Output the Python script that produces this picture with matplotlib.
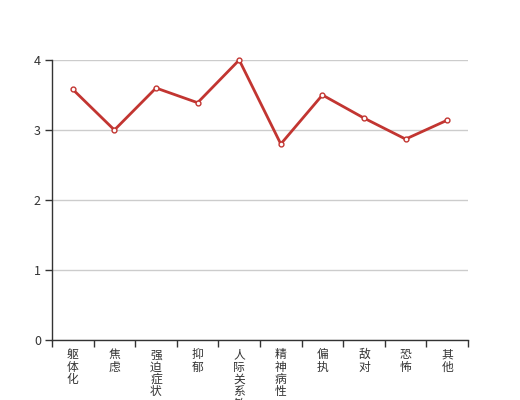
import matplotlib.pyplot as plt
import numpy as np

plt.rcParams['font.family'] = ['Noto Sans CJK SC', 'DejaVu Sans']

categories = ['躯体化', '焦虑', '强迫症状', '抑郁', '人际关系敏感',
              '精神病性', '偏执', '敌对', '恐怖', '其他']
values = [3.58, 3.0, 3.6, 3.39, 4.0, 2.8, 3.5, 3.17, 2.87, 3.14]

line_color = '#c23531'
axis_color = '#333333'

fig = plt.figure(figsize=(5.2, 4), dpi=100)
ax = fig.add_axes([0.1, 0.15, 0.8, 0.7])

x = np.arange(len(categories))
ax.plot(x, values, color=line_color, linewidth=2, marker='o', markersize=3.5,
        markerfacecolor='white', markeredgecolor=line_color, markeredgewidth=1,
        zorder=3, clip_on=False)

ax.set_xlim(-0.5, len(categories) - 0.5)
ax.set_ylim(0, 4)
ax.set_yticks([0, 1, 2, 3, 4])
ax.yaxis.grid(True, color='#cccccc', linewidth=1)
ax.set_axisbelow(True)

# labels at band centres, ticks at band edges
ax.set_xticks(x)
ax.set_xticklabels(['\n'.join(c) for c in categories], linespacing=0.93,
                   va='top')
ax.set_xticks(np.arange(-0.5, len(categories)), minor=True)
ax.tick_params(axis='x', which='major', length=0, pad=6, labelsize=8.5,
               labelcolor=axis_color)
ax.tick_params(axis='x', which='minor', length=5, width=1, color=axis_color)
ax.tick_params(axis='y', length=5, width=1, color=axis_color, labelsize=9,
               labelcolor=axis_color, pad=3)

for side in ['top', 'right']:
    ax.spines[side].set_visible(False)
for side in ['left', 'bottom']:
    ax.spines[side].set_color(axis_color)
    ax.spines[side].set_linewidth(1)

fig.savefig('out.png', dpi=100)
